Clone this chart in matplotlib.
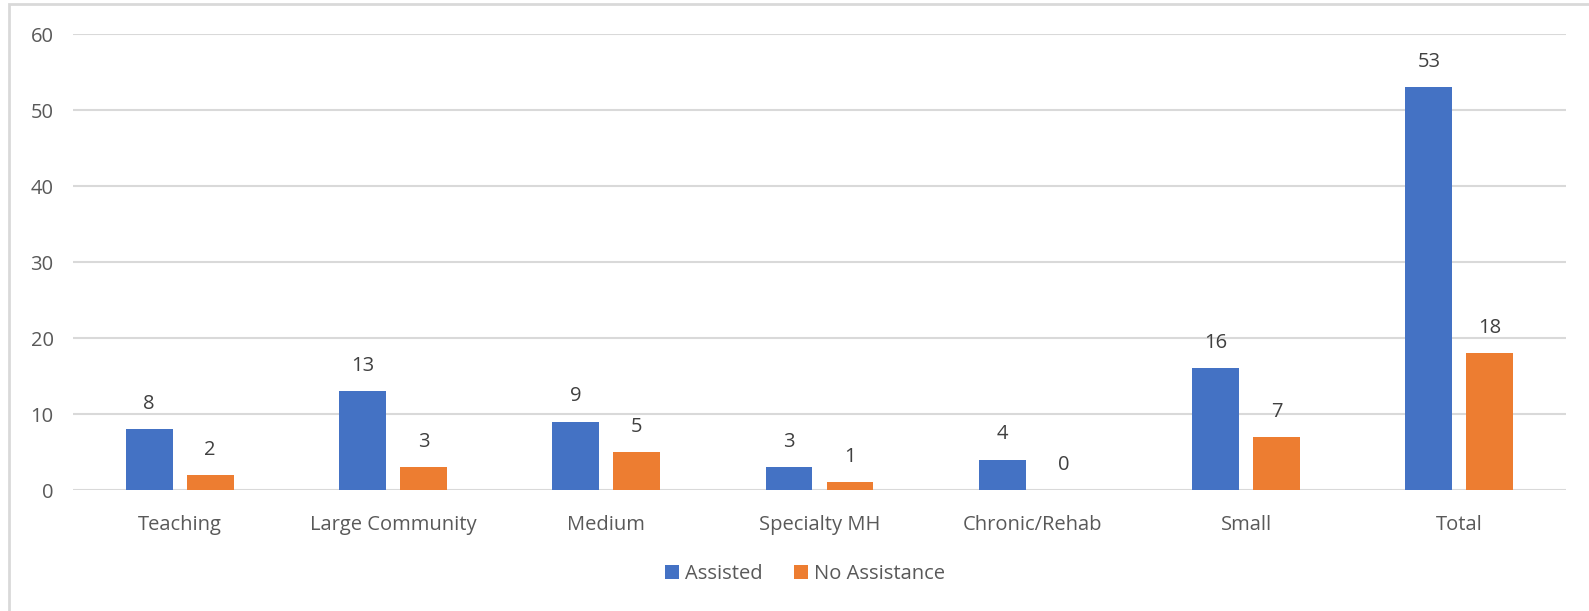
import numpy as np
import matplotlib.pyplot as plt
from matplotlib.patches import Rectangle

categories = ['Teaching', 'Large Community', 'Medium', 'Specialty MH',
              'Chronic/Rehab', 'Small', 'Total']
assisted = [8, 13, 9, 3, 4, 16, 53]
no_assistance = [2, 3, 5, 1, 0, 7, 18]

blue = '#4472c4'
orange = '#ed7d31'
grey_text = '#595959'

plt.rcParams['font.family'] = ['Open Sans', 'DejaVu Sans']

fig = plt.figure(figsize=(15.89, 6.11), dpi=100)
ax = fig.add_axes([73 / 1589, 1 - 490 / 611, (1566 - 73) / 1589, (490 - 34) / 611])

x = np.arange(len(categories))
w = 0.22
off = 0.143
b1 = ax.bar(x - off, assisted, w, color=blue, label='Assisted', zorder=3)
b2 = ax.bar(x + off, no_assistance, w, color=orange, label='No Assistance', zorder=3)

for bars in (b1, b2):
    ax.bar_label(bars, padding=11, fontsize=14.5, color='#404040')

ax.set_xlim(-0.5, len(categories) - 0.5)
ax.set_ylim(0, 60)
ax.set_yticks(range(0, 61, 10))
ax.set_xticks(x)
ax.set_xticklabels(categories)
ax.yaxis.grid(True, color='#d9d9d9', linewidth=1.5, zorder=0)
ax.set_axisbelow(True)
for s in ax.spines.values():
    s.set_visible(False)
ax.tick_params(axis='both', length=0, labelsize=14.5, colors=grey_text)
ax.tick_params(axis='x', pad=18)
ax.tick_params(axis='y', pad=14)

leg = fig.legend(loc='center', bbox_to_anchor=(805 / 1589, 1 - 574 / 611), ncol=2,
                 frameon=False, fontsize=14.5, handlelength=0.65, handleheight=0.65,
                 handletextpad=0.3, columnspacing=1.6)
for t in leg.get_texts():
    t.set_color(grey_text)

# outer chart border
fig.patches.append(Rectangle((9 / 1589, -0.01), 1.1, 1 - 4 / 611 + 0.01,
                             transform=fig.transFigure, fill=False,
                             edgecolor='#d9d9d9', linewidth=2))

fig.savefig('out.png', dpi=100)
